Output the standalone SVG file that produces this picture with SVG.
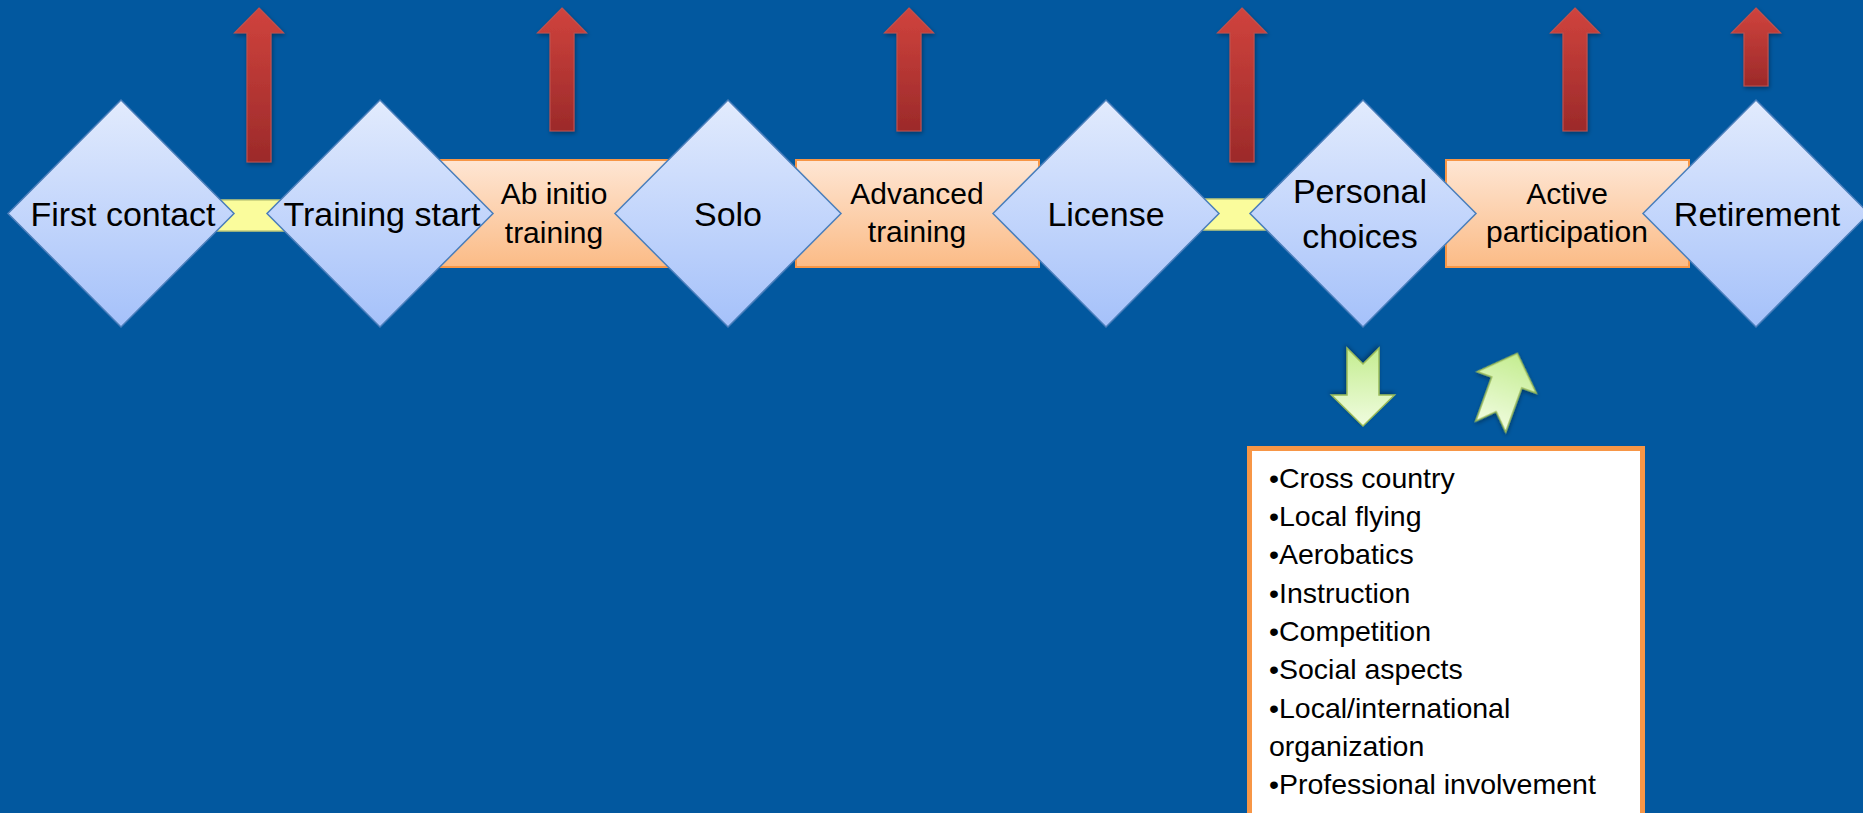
<svg xmlns="http://www.w3.org/2000/svg" width="1863" height="813" viewBox="0 0 1863 813">
<defs>
<linearGradient id="gDia" x1="0" y1="0" x2="0" y2="1"><stop offset="0" stop-color="#e2ebfd"/><stop offset="1" stop-color="#a5c1fa"/></linearGradient>
<linearGradient id="gBox" x1="0" y1="0" x2="0" y2="1"><stop offset="0" stop-color="#fee6d4"/><stop offset="1" stop-color="#fbbb86"/></linearGradient>
<linearGradient id="gRed" x1="0" y1="0" x2="0" y2="1"><stop offset="0" stop-color="#d0433d"/><stop offset="1" stop-color="#9c2a2a"/></linearGradient>
<linearGradient id="gGreen" x1="0" y1="0" x2="0" y2="1"><stop offset="0" stop-color="#f0fcdf"/><stop offset="1" stop-color="#c4ed90"/></linearGradient>
<linearGradient id="gGreenUp" x1="0" y1="1" x2="0" y2="0"><stop offset="0" stop-color="#f0fcdf"/><stop offset="1" stop-color="#c4ed90"/></linearGradient>
<filter id="sh" x="-30%" y="-10%" width="160%" height="125%"><feDropShadow dx="1" dy="2" stdDeviation="2" flood-color="#000" flood-opacity="0.35"/></filter>
</defs>
<style>
.dia{fill:url(#gDia);stroke:#4a7ebb;stroke-width:1.5}
.box{fill:url(#gBox);stroke:#f79646;stroke-width:2}
.band{fill:#fafc9c;stroke:#c3cc7a;stroke-width:1.5}
.red{fill:url(#gRed);stroke:#c0504d;stroke-width:1.2;filter:url(#sh)}
.green{stroke:#9bbb59;stroke-width:1.5;filter:url(#sh)}
.dt{font-family:"Liberation Sans",Arial,sans-serif;font-size:34px;fill:#000;text-anchor:middle}
.bt{font-family:"Liberation Sans",Arial,sans-serif;font-size:30px;fill:#000;text-anchor:middle}
.lt{font-family:"Liberation Sans",Arial,sans-serif;font-size:28.5px;fill:#000}
</style>
<rect x="0" y="0" width="1863" height="813" fill="#02589f"/>

<g id="connectors">
<rect class="band" x="200" y="200" width="100" height="31"/>
<rect class="band" x="1200" y="199" width="75" height="31"/>
<polygon class="red" points="259,8 283.5,33 271,33 271,162 247,162 247,33 234.5,33"/>
<polygon class="red" points="562,8 586.5,33 574,33 574,131 550,131 550,33 537.5,33"/>
<polygon class="red" points="909,8 933.5,33 921,33 921,131 897,131 897,33 884.5,33"/>
<polygon class="red" points="1242,8 1266.5,33 1254,33 1254,162 1230,162 1230,33 1217.5,33"/>
<polygon class="red" points="1575,8 1599.5,33 1587,33 1587,131 1563,131 1563,33 1550.5,33"/>
<polygon class="red" points="1756,8 1780.5,33 1768,33 1768,86 1744,86 1744,33 1731.5,33"/>
<polygon class="green" fill="url(#gGreen)" transform="translate(1363,387) rotate(180)" points="0,-39 31.5,-8 16,-8 16,39 0,23 -16,39 -16,-8 -31.5,-8"/>
<polygon class="green" fill="url(#gGreenUp)" transform="translate(1504,390) rotate(20)" points="0,-39 31.5,-8 16,-8 16,39 0,23 -16,39 -16,-8 -31.5,-8"/>
</g>

<g id="box-ab-initio">
<rect class="box" x="408" y="160" width="292" height="107"/>
<text class="bt" x="554" y="204">Ab initio</text>
<text class="bt" x="554" y="243">training</text>
</g>
<g id="box-advanced">
<rect class="box" x="796" y="160" width="243" height="107"/>
<text class="bt" x="917" y="204">Advanced</text>
<text class="bt" x="917" y="242">training</text>
</g>
<g id="box-active">
<rect class="box" x="1446" y="160" width="243" height="107"/>
<text class="bt" x="1567" y="204">Active</text>
<text class="bt" x="1567" y="242">participation</text>
</g>

<g id="node-first-contact">
<polygon class="dia" points="121,100 234,213.5 121,327 8,213.5"/>
<text class="dt" x="123" y="226">First contact</text>
</g>
<g id="node-training-start">
<polygon class="dia" points="380,100 493,213.5 380,327 267,213.5"/>
<text class="dt" x="382" y="226">Training start</text>
</g>
<g id="node-solo">
<polygon class="dia" points="728,100 841,213.5 728,327 615,213.5"/>
<text class="dt" x="728" y="226">Solo</text>
</g>
<g id="node-license">
<polygon class="dia" points="1106,100 1219,213.5 1106,327 993,213.5"/>
<text class="dt" x="1106" y="226">License</text>
</g>
<g id="node-personal-choices">
<polygon class="dia" points="1363,100 1476,213.5 1363,327 1250,213.5"/>
<text class="dt" x="1360" y="203">Personal</text>
<text class="dt" x="1360" y="248">choices</text>
</g>
<g id="node-retirement">
<polygon class="dia" points="1756,100 1869,213.5 1756,327 1643,213.5"/>
<text class="dt" x="1757" y="226">Retirement</text>
</g>

<g id="list-box">
<rect x="1249.5" y="448.5" width="393" height="380" fill="#fff" stroke="#f79646" stroke-width="5"/>
<text class="lt" x="1269" y="488">•Cross country</text>
<text class="lt" x="1269" y="526">•Local flying</text>
<text class="lt" x="1269" y="564">•Aerobatics</text>
<text class="lt" x="1269" y="603">•Instruction</text>
<text class="lt" x="1269" y="641">•Competition</text>
<text class="lt" x="1269" y="679">•Social aspects</text>
<text class="lt" x="1269" y="718">•Local/international</text>
<text class="lt" x="1269" y="756">organization</text>
<text class="lt" x="1269" y="794">•Professional involvement</text>
</g>
</svg>
